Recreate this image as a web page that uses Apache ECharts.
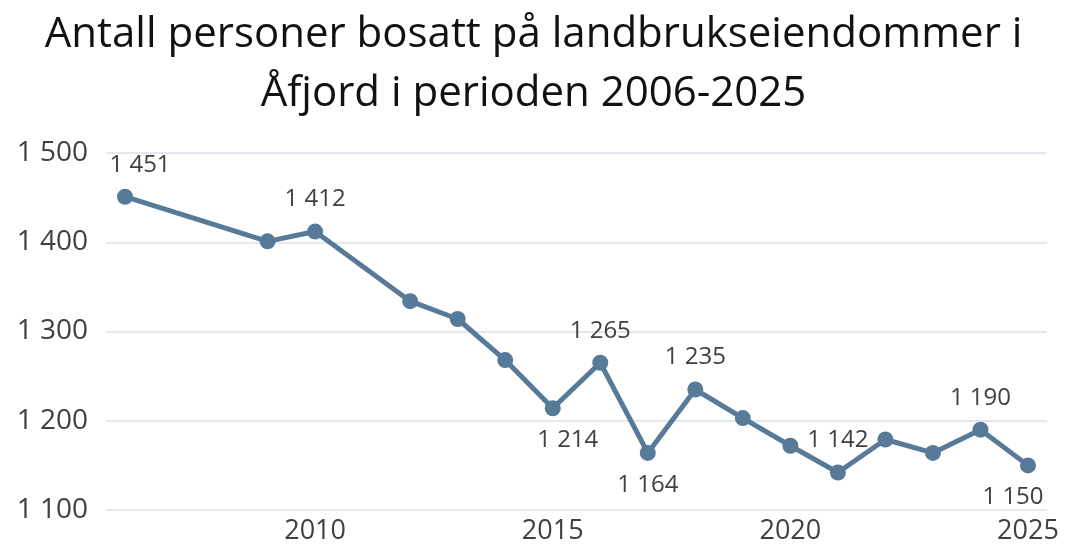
<!DOCTYPE html>
<html>
<head>
<meta charset="utf-8">
<script src="https://cdn.jsdelivr.net/npm/echarts@6/dist/echarts.min.js"></script>
<style>
  html,body{margin:0;padding:0;background:#fff;}
  #chart{width:1067px;height:554px;}
</style>
</head>
<body>
<div id="chart"></div>
<script>
// data
var years = [2006, 2009, 2010, 2012, 2013, 2014, 2015, 2016, 2017, 2018, 2019, 2020, 2021, 2022, 2023, 2024, 2025];
var persons = [1451, 1401, 1412, 1334, 1314, 1268, 1214, 1265, 1164, 1235, 1203, 1172, 1142, 1179, 1164, 1190, 1150];
var yearTicks = [2010, 2015, 2020, 2025];
// which points carry a label, and where
var labelPos = {2006: 'above', 2010: 'above', 2015: 'below', 2016: 'above', 2017: 'below',
                2018: 'above', 2021: 'above', 2024: 'above', 2025: 'below'};

function fmt(v){
  return String(v).replace(/\B(?=(\d{3})+(?!\d))/g, ' ');
}

var pts = years.map(function(y, i){
  var p = {value: [y, persons[i]]};
  var pos = labelPos[y];
  if (!pos) {
    p.label = {show: false};
  } else if (pos == 'above') {
    p.label = {show: true, position: 'top', distance: 12, offset: [y == 2006 ? 15 : 0, 0]};
  } else {
    p.label = {show: true, position: 'bottom', distance: 12,
               offset: [y == 2015 ? 15 : (y == 2025 ? -15 : 0), 0]};
  }
  return p;
});

var chart = echarts.init(document.getElementById('chart'));
var option = {
  animation: false,
  title: {
    text: 'Antall personer bosatt på landbrukseiendommer i\nÅfjord i perioden 2006-2025',
    left: 'center',
    top: 1,
    textStyle: {
      fontFamily: 'Open Sans',
      fontWeight: 'normal',
      fontSize: 42,
      lineHeight: 59,
      color: '#111'
    }
  },
  grid: {left: 106, right: 20, top: 153, bottom: 44},
  xAxis: {
    type: 'value',
    min: 2005.6,
    max: 2025.4,
    axisLine: {show: false},
    axisTick: {show: false},
    splitLine: {show: false},
    axisLabel: {
      customValues: yearTicks,
      formatter: function(v){ return String(v); },
      fontFamily: 'Open Sans',
      fontSize: 27,
      color: '#404040',
      margin: 8
    }
  },
  yAxis: {
    type: 'value',
    min: 1100,
    max: 1500,
    interval: 100,
    axisLine: {show: false},
    axisTick: {show: false},
    splitLine: {lineStyle: {color: '#e4e8ee', width: 2}},
    axisLabel: {
      formatter: fmt,
      fontFamily: 'Open Sans',
      fontSize: 28,
      color: '#404040',
      margin: 18
    }
  },
  series: [{
    type: 'line',
    data: pts,
    symbol: 'circle',
    symbolSize: 16,
    lineStyle: {color: '#587a99', width: 5},
    itemStyle: {color: '#587a99'},
    label: {
      formatter: function(p){ return fmt(p.value[1]); },
      fontFamily: 'Open Sans',
      fontSize: 24,
      color: '#404040'
    }
  }]
};
chart.setOption(option);
</script>
</body>
</html>
